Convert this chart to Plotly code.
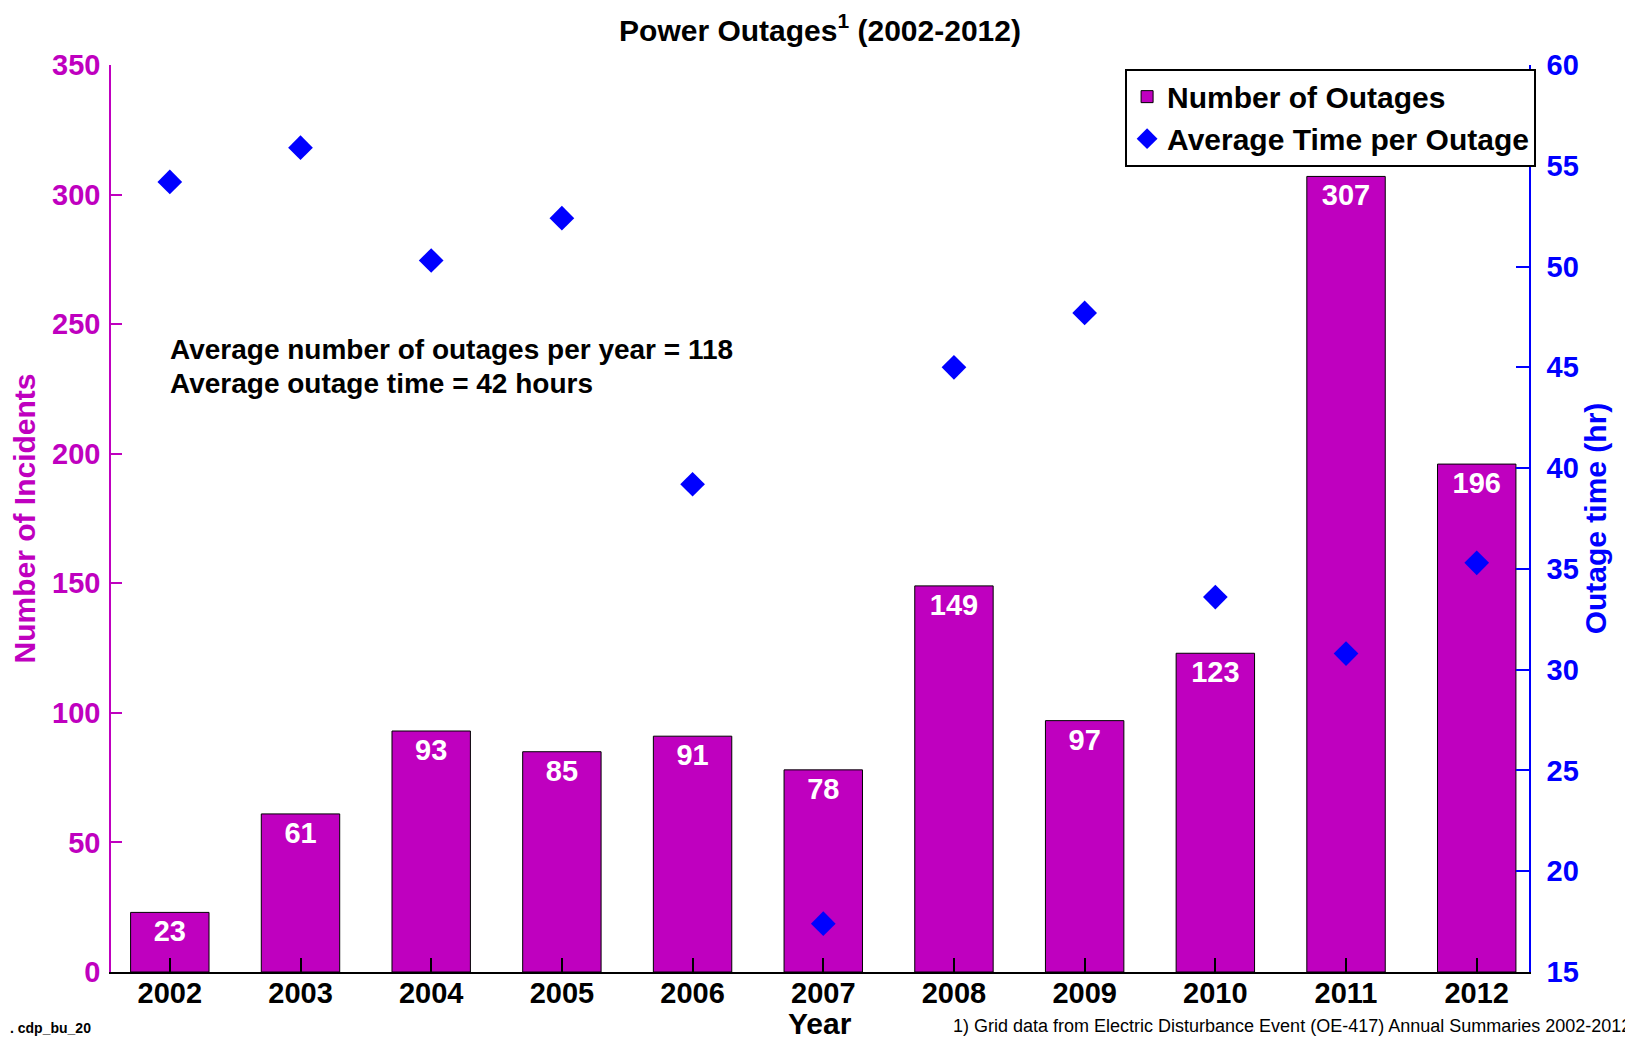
import plotly.graph_objects as go

years = [2002, 2003, 2004, 2005, 2006, 2007, 2008, 2009, 2010, 2011, 2012]
outages = [23, 61, 93, 85, 91, 78, 149, 97, 123, 307, 196]
avg_time = [54.2, 55.9, 50.3, 52.4, 39.2, 17.4, 45.0, 47.7, 33.6, 30.8, 35.3]
left_ticks = [0, 50, 100, 150, 200, 250, 300, 350]
right_ticks = [15, 20, 25, 30, 35, 40, 45, 50, 55, 60]

MAG = "#BF00BF"
BLUE = "#0000FF"
SANS = "Liberation Sans, Arial, sans-serif"

fig = go.Figure()
fig.add_trace(go.Bar(
    x=years, y=outages, width=0.6, name="Number of Outages",
    marker=dict(color=MAG, line=dict(color="black", width=1)),
    text=[str(v) for v in outages], textposition="inside", insidetextanchor="end",
    textfont=dict(family=SANS, size=29, color="white", weight="bold"),
    constraintext="none", yaxis="y",
))
fig.add_trace(go.Scatter(
    x=years, y=avg_time, mode="markers", name="Average Time per Outage",
    marker=dict(symbol="diamond", size=19, color=BLUE, line=dict(width=0)),
    yaxis="y2",
))

fig.update_layout(
    width=1633, height=1038,
    margin=dict(l=103, r=112, t=57, b=74),
    paper_bgcolor="white", plot_bgcolor="white",
    showlegend=True,
    legend=dict(x=1.005, xanchor="right", y=0.996, yanchor="top",
                bordercolor="black", borderwidth=2, bgcolor="white",
                font=dict(family=SANS, size=30, color="black", weight="bold"),
                tracegroupgap=0, itemsizing="trace"),
    title=dict(text="Power Outages<sup>1</sup> (2002-2012)", x=0.5, xref="paper",
               y=1 - 22 / 1038, yanchor="middle",
               font=dict(family=SANS, size=30, color="black", weight="bold")),
    xaxis=dict(range=[2001.55, 2012.4], tickmode="array", tickvals=years,
               ticktext=[str(y) for y in years],
               ticks="inside", ticklen=14, tickwidth=1.5, tickcolor="black",
               ticklabelstandoff=-6,
               showline=True, linecolor="black", linewidth=1.5, showgrid=False, zeroline=False,
               tickfont=dict(family=SANS, size=29, color="black", weight="bold")),
    yaxis=dict(range=[0, 350], tickvals=left_ticks, ticks="inside", ticklen=11,
               tickcolor=MAG, tickwidth=1.5, showline=True, linecolor=MAG, linewidth=1.5,
               showgrid=False, zeroline=False, ticklabelstandoff=3,
               tickfont=dict(family=SANS, size=29, color=MAG, weight="bold"),
               title=dict(text="Number of Incidents", standoff=12,
                          font=dict(family=SANS, size=30, color=MAG, weight="bold"))),
    yaxis2=dict(range=[15, 60], tickvals=right_ticks, overlaying="y", side="right",
                ticks="inside", ticklen=13, tickcolor=BLUE, tickwidth=1.5,
                showline=True, linecolor=BLUE, linewidth=1.5, showgrid=False, zeroline=False,
                ticklabelstandoff=10,
                tickfont=dict(family=SANS, size=29, color=BLUE, weight="bold"),
                title=dict(text="Outage time (hr)", standoff=6,
                           font=dict(family=SANS, size=30, color=BLUE, weight="bold"))),
)

fig.add_annotation(x=0.040, xref="paper", xanchor="left", y=0.686, yref="paper", yanchor="middle",
                   text="Average number of outages per year = 118", showarrow=False,
                   font=dict(family=SANS, size=28, color="black", weight="bold"))
fig.add_annotation(x=0.040, xref="paper", xanchor="left", y=0.649, yref="paper", yanchor="middle",
                   text="Average outage time = 42 hours", showarrow=False,
                   font=dict(family=SANS, size=28, color="black", weight="bold"))
fig.add_annotation(x=0.5, xref="paper", y=-0.0573, yref="paper", yanchor="middle",
                   text="Year", showarrow=False,
                   font=dict(family=SANS, size=30, color="black", weight="bold"))
fig.add_annotation(x=1.0733, xref="paper", xanchor="right", y=-0.0595, yref="paper",
                   yanchor="middle", showarrow=False,
                   text="1) Grid data from Electric Disturbance Event (OE-417) Annual Summaries 2002-2012",
                   font=dict(family=SANS, size=18, color="black"))
fig.add_annotation(x=-0.0726, xref="paper", xanchor="left", y=-0.0617, yref="paper",
                   yanchor="middle", showarrow=False, text=". cdp_bu_20",
                   font=dict(family=SANS, size=14, color="black", weight="bold"))

fig.write_html("out.html")
